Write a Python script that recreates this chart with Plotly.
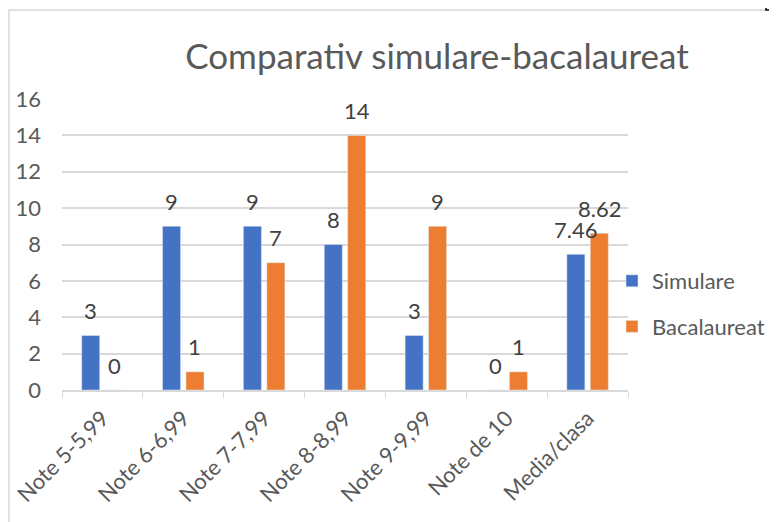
import plotly.graph_objects as go

categories = ["Note 5-5,99", "Note 6-6,99", "Note 7-7,99", "Note 8-8,99",
              "Note 9-9,99", "Note de 10", "Media/clasa"]
simulare = [3, 9, 9, 8, 3, 0, 7.46]
bacalaureat = [0, 1, 7, 14, 9, 1, 8.62]
y_ticks = [0, 2, 4, 6, 8, 10, 12, 14, 16]

BLUE = "#4472C4"
ORANGE = "#ED7D31"
GREY = "#595959"
GRID = "#D9D9D9"
FONT = "Lato, Carlito, Calibri, sans-serif"

# the page body has an 8px margin, so the figure is drawn 8px in from the corner
OFF = 8
FW, FH = 777 - OFF, 522 - OFF
# plot area in page pixels
PL, PR, PT, PB = 62, 628, 99, 390
L, T = PL - OFF, PT - OFF
R, B = FW - (PR - OFF), FH - (PB - OFF)
W, H = PR - PL, PB - PT


def px_x(p):
    return (p - PL) / W


def px_y(p):
    return (PB - p) / H


fig = go.Figure()
fig.add_trace(go.Bar(x=categories, y=simulare, name="Simulare",
                     marker_color=BLUE, legendgroup="s"))
fig.add_trace(go.Bar(x=categories, y=bacalaureat, name="Bacalaureat",
                     marker_color=ORANGE, legendgroup="b"))

# data labels above the bars
for vals, shift in [(simulare, -11.7), (bacalaureat, 11.7)]:
    for cat, v in zip(categories, vals):
        fig.add_annotation(x=cat, y=v, text=f"{v:g}", showarrow=False,
                           xshift=shift, yshift=25, yanchor="middle",
                           font=dict(family=FONT, size=22, color="#404040"))

# chart frame (left + top edges) and corner of the neighbouring frame
fig.add_shape(type="path", xref="paper", yref="paper",
              path=f"M {px_x(9)},{px_y(530)} L {px_x(9)},{px_y(10)} L {px_x(766)},{px_y(10)}",
              line=dict(color=GRID, width=1.5))
fig.add_shape(type="path", xref="paper", yref="paper",
              path=f"M {px_x(766)},{px_y(0)} L {px_x(766)},{px_y(10)} L {px_x(785)},{px_y(10)}",
              line=dict(color="black", width=1.5))

fig.update_layout(
    width=FW, height=FH,
    margin=dict(l=L, r=R, t=T, b=B, autoexpand=False),
    paper_bgcolor="white", plot_bgcolor="white",
    barmode="group", bargap=0.42, bargroupgap=0.23,
    title=dict(text="Comparativ simulare-bacalaureat",
               x=(437 - OFF) / FW, xanchor="center",
               y=1 - (57 - OFF) / FH, yanchor="middle",
               font=dict(family=FONT, size=35, color=GREY)),
    font=dict(family=FONT, size=22, color=GREY),
    legend=dict(x=px_x(612), xanchor="left", y=px_y(304), yanchor="middle",
                tracegroupgap=14, traceorder="grouped", bgcolor="rgba(0,0,0,0)",
                font=dict(family=FONT, size=22, color=GREY)),
    xaxis=dict(showline=True, linecolor=GRID, linewidth=1.5, automargin=False,
               ticks="outside", tickson="boundaries", ticklen=6, tickcolor=GRID,
               tickangle=-45, ticklabelstandoff=5,
               tickfont=dict(family=FONT, size=22, color=GREY)),
    yaxis=dict(range=[0, 16], tickvals=y_ticks, showgrid=True, gridcolor=GRID,
               gridwidth=1.5, zeroline=False, ticklabelstandoff=20, automargin=False,
               tickfont=dict(family=FONT, size=22, color=GREY)),
)

fig.write_html("out.html")
